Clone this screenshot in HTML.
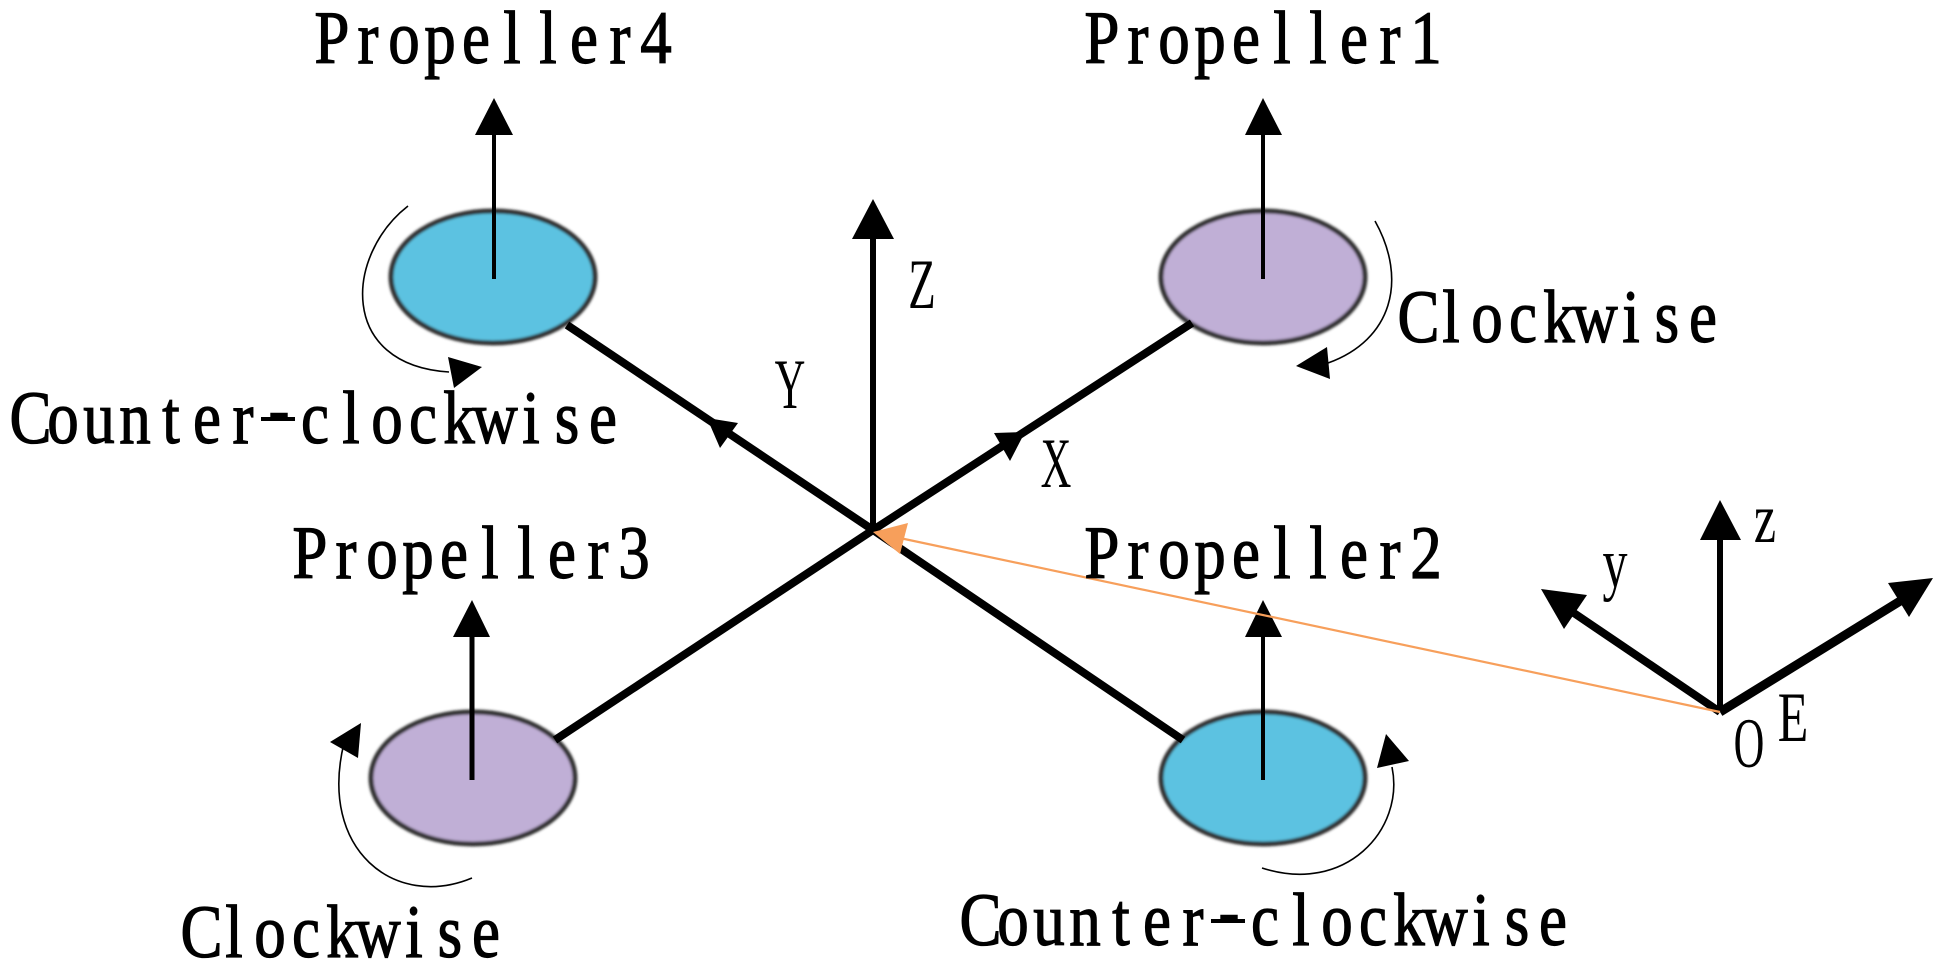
<!DOCTYPE html>
<html><head><meta charset="utf-8"><style>
html,body{margin:0;padding:0;background:#fff;width:1944px;height:970px;overflow:hidden}
svg{display:block}
text{font-family:"Liberation Serif",serif;fill:#000;text-anchor:middle}
.m{font-size:60px;stroke:#000;stroke-width:1px}
.s{font-size:50px}
</style></head><body>
<svg width="1944" height="970" viewBox="0 0 1944 970" xmlns="http://www.w3.org/2000/svg">
<defs><filter id="b" x="-5%" y="-5%" width="110%" height="110%"><feGaussianBlur stdDeviation="1.3"/></filter></defs>
<rect width="1944" height="970" fill="#fff"/>
<g stroke="#333" stroke-width="5" filter="url(#b)">
<ellipse cx="493" cy="277" rx="102" ry="66" fill="#5BC2E1"/>
<ellipse cx="1263" cy="277" rx="102" ry="66" fill="#C0AFD6"/>
<ellipse cx="473" cy="778" rx="102" ry="66" fill="#C0AFD6"/>
<ellipse cx="1263" cy="778" rx="102" ry="66" fill="#5BC2E1"/>
</g>
<g stroke="#000" stroke-width="8" fill="none">
<line x1="873" y1="530" x2="567" y2="325"/>
<line x1="873" y1="530" x2="1192" y2="323"/>
<line x1="873" y1="530" x2="555" y2="740"/>
<line x1="873" y1="530" x2="1183" y2="740"/>
<line x1="1720" y1="712" x2="1565" y2="607" stroke-width="8"/>
<line x1="1720" y1="712" x2="1910" y2="595" stroke-width="9"/>
</g>
<g stroke="#000" stroke-width="4" fill="none">
<line x1="494" y1="130" x2="494" y2="279"/>
<line x1="1263" y1="130" x2="1263" y2="279"/>
<line x1="472" y1="630" x2="472" y2="780" stroke-width="5"/>
<line x1="1263" y1="630" x2="1263" y2="780"/>
<line x1="873" y1="235" x2="873" y2="530" stroke-width="6"/>
<line x1="1720" y1="535" x2="1720" y2="712" stroke-width="6"/>
</g>
<g fill="#000">
<polygon points="494,98 475,135 513,135"/>
<polygon points="1263,98 1245,135 1282,135"/>
<polygon points="472,600 453,637 490,637"/>
<polygon points="1263,600 1245,637 1282,637"/>
<polygon points="873,199 852,239 894,239"/>
<polygon points="1720,500 1700,540 1741,540"/>
<polygon points="707,418 738,423 720,448"/>
<polygon points="1025,432 994,433 1010,461"/>
<polygon points="1541,589 1587,595 1564,629"/>
<polygon points="1933,578 1888,583 1909,617"/>
<polygon points="482,367 448,357 454,388"/>
<polygon points="1296,366 1327,347 1330,379"/>
<polygon points="330,742 361,723 358,758"/>
<polygon points="1386,734 1409,761 1377,768"/>
</g>
<g stroke="#000" stroke-width="1.6" fill="none">
<path d="M408,206 C345,255 338,365 449,372"/>
<path d="M1375,221 C1408,280 1392,340 1328,363"/>
<path d="M472,878 C395,910 318,850 344,743"/>
<path d="M1262,868 C1345,895 1405,830 1392,767"/>
</g>
<line x1="1720" y1="712" x2="895" y2="537" stroke="#F79F5B" stroke-width="2.2"/>
<polygon points="873,532 908,523 900,554" fill="#F79F5B"/>
<g stroke="#000" stroke-width="4">
<line x1="261" y1="419" x2="295" y2="419"/>
<line x1="1211" y1="921" x2="1245" y2="921"/>
</g>
<text class="m" transform="translate(314,63) scale(1.05,1.26)" x="17.1 51.4 85.7 120 154.3 188.6 222.9 257.1 291.4 325.7">Propeller4</text>
<text class="m" transform="translate(1084,63) scale(1.05,1.26)" x="17.1 51.4 85.7 120 154.3 188.6 222.9 257.1 291.4 325.7">Propeller1</text>
<text class="m" transform="translate(292,578) scale(1.05,1.26)" x="17.1 51.4 85.7 120 154.3 188.6 222.9 257.1 291.4 325.7">Propeller3</text>
<text class="m" transform="translate(1084,578) scale(1.05,1.26)" x="17.1 51.4 85.7 120 154.3 188.6 222.9 257.1 291.4 325.7">Propeller2</text>
<text class="m" transform="translate(9,443) scale(1.05,1.26)"><tspan x="20.5 51.4 85.7 120 154.3 188.6 222.9">Counter</tspan><tspan x="257.1" dy="-7">-</tspan><tspan x="291.4 325.7 360 394.3 428.6 462.9 497.1 531.4 565.7" dy="7">clockwise</tspan></text>
<text class="m" transform="translate(959,945) scale(1.05,1.26)"><tspan x="20.5 51.4 85.7 120 154.3 188.6 222.9">Counter</tspan><tspan x="257.1" dy="-7">-</tspan><tspan x="291.4 325.7 360 394.3 428.6 462.9 497.1 531.4 565.7" dy="7">clockwise</tspan></text>
<text class="m" transform="translate(1397,342) scale(1.05,1.26)" x="20.5 51.4 85.7 120 154.3 188.6 222.9 257.1 291.4">Clockwise</text>
<text class="m" transform="translate(180,957) scale(1.05,1.26)" x="20.5 51.4 85.7 120 154.3 188.6 222.9 257.1 291.4">Clockwise</text>
<text class="s" transform="translate(922,308) scale(.9,1.42)">Z</text>
<text class="s" transform="translate(790,408) scale(.85,1.42)">Y</text>
<text class="s" transform="translate(1056,487) scale(.85,1.42)">X</text>
<text class="s" transform="translate(1765,542) scale(1,1.42)">z</text>
<text class="s" transform="translate(1615,587) scale(1,1.42)">y</text>
<text class="s" transform="translate(1749,767) scale(.85,1.42)">O</text>
<text class="s" transform="translate(1793,741) scale(1,1.42)">E</text>
</svg>
</body></html>
